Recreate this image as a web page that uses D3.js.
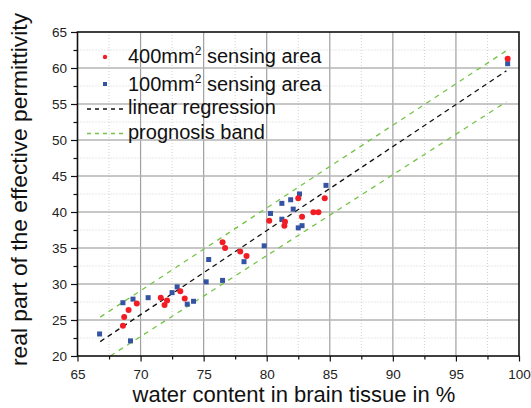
<!DOCTYPE html>
<html>
<head>
<meta charset="utf-8">
<script src="https://cdn.jsdelivr.net/npm/d3@7"></script>
<style>
body{margin:0;background:#fff;}
svg{display:block;font-family:"Liberation Sans",Arial,sans-serif;}
</style>
</head>
<body>
<div id="chart"></div>
<script>
// 400mm2 sensing area (red circles)
const redX = [68.6,68.7,69.05,69.7,71.6,71.9,72.1,73.15,73.5,76.5,76.7,77.9,78.4,80.2,81.45,81.4,82.5,82.8,83.7,84.1,84.6,99.1];
const redY = [24.2,25.4,26.4,27.3,28.1,27.1,27.7,29.0,28.0,35.8,35.0,34.5,33.9,38.8,38.65,38.1,41.9,39.35,39.95,39.95,41.9,61.3];
// 100mm2 sensing area (blue squares)
const blueX = [66.75,68.6,69.2,69.4,70.6,72.5,72.9,73.7,74.2,75.2,76.5,75.4,78.2,79.8,80.3,81.2,81.2,81.9,82.1,82.6,82.5,82.8,84.7,99.1];
const blueY = [23.06,27.4,22.1,27.9,28.1,28.8,29.6,27.2,27.6,30.3,30.5,33.4,33.1,35.3,39.8,41.2,39.0,41.7,40.4,42.5,37.8,38.1,43.7,60.6];
// regression and prognosis band end points
const regX = [66.8, 99.0],   regY = [22.0, 59.6];
const upperX = [66.8, 99.0], upperY = [25.4, 62.4];
const lowerX = [67.6, 99.0], lowerY = [20.0, 55.3];
// ticks
const xTicks = [65,70,75,80,85,90,95,100];
const yTicks = [20,25,30,35,40,45,50,55,60,65];
const legendLabels = ["400mm", "100mm", "linear regression", "prognosis band"];

const W = 531, H = 408;
const pLeft = 77.5, pRight = 519, pTop = 32, pBottom = 356;

const svg = d3.select("#chart").append("svg")
    .attr("width", W)
    .attr("height", H);

const x = d3.scaleLinear().domain([65, 100]).range([pLeft, pRight]);
const y = d3.scaleLinear().domain([20, 65]).range([pBottom, pTop]);

//minor grid every 2.5
const minorX = d3.range(67.5, 100, 5);
const minorY = d3.range(22.5, 65, 5);

svg.selectAll("line.minorx").data(minorX).enter().append("line")
    .attr("x1", d => x(d)).attr("x2", d => x(d))
    .attr("y1", pTop).attr("y2", pBottom)
    .attr("stroke", "#d0d0d0").attr("stroke-width", 1)
    .attr("stroke-dasharray", "1,2");
svg.selectAll("line.minory").data(minorY).enter().append("line")
    .attr("x1", pLeft).attr("x2", pRight)
    .attr("y1", d => y(d)).attr("y2", d => y(d))
    .attr("stroke", "#d0d0d0").attr("stroke-width", 1)
    .attr("stroke-dasharray", "1,2");

//major grid
svg.selectAll("line.majorx").data(xTicks.slice(1, -1)).enter().append("line")
    .attr("x1", d => x(d)).attr("x2", d => x(d))
    .attr("y1", pTop).attr("y2", pBottom)
    .attr("stroke", "#a0a0a0").attr("stroke-width", 1.2);
svg.selectAll("line.majory").data(yTicks.slice(1, -1)).enter().append("line")
    .attr("x1", pLeft).attr("x2", pRight)
    .attr("y1", d => y(d)).attr("y2", d => y(d))
    .attr("stroke", "#b4b4b4").attr("stroke-width", 1.5);

//lines
const line = d3.line().x(d => x(d[0])).y(d => y(d[1]));
function drawLine(xs, ys, color, dash){
    svg.append("path")
        .datum(xs.map((v, i) => [v, ys[i]]))
        .attr("d", line)
        .attr("fill", "none")
        .attr("stroke", color)
        .attr("stroke-width", 1.3)
        .attr("stroke-dasharray", dash);
}
drawLine(upperX, upperY, "#74c447", "5,5");
drawLine(lowerX, lowerY, "#74c447", "5,5");
drawLine(regX, regY, "#111", "5,4");

//points
svg.selectAll("rect.blue").data(blueX).enter().append("rect")
    .attr("x", d => x(d) - 2.5)
    .attr("y", (d, i) => y(blueY[i]) - 2.5)
    .attr("width", 5).attr("height", 5)
    .attr("fill", "#3553a3");
svg.selectAll("circle.red").data(redX).enter().append("circle")
    .attr("cx", d => x(d))
    .attr("cy", (d, i) => y(redY[i]))
    .attr("r", 3)
    .attr("fill", "#f21d24");

//axes
const xAxis = d3.axisBottom(x).tickValues(d3.range(65, 100.1, 2.5)).tickSize(5.5).tickFormat(d => xTicks.includes(d) ? d : "");
const yAxis = d3.axisLeft(y).tickValues(d3.range(20, 65.1, 2.5)).tickSize(6.5).tickFormat(d => yTicks.includes(d) ? d : "");

const gx = svg.append("g").attr("transform", "translate(0," + pBottom + ")").call(xAxis);
const gy = svg.append("g").attr("transform", "translate(" + pLeft + ",0)").call(yAxis);
[gx, gy].forEach(g => {
    g.select(".domain").remove();
    g.selectAll("line").attr("stroke", "#111").attr("stroke-width", 1.2);
    g.selectAll("text").attr("fill", "#222").style("font-size", "13.5px")
        .style("font-family", "'Liberation Sans',Arial,sans-serif");
});
gx.selectAll(".tick").filter(d => !xTicks.includes(d)).select("line").attr("y2", 3.5);
gy.selectAll(".tick").filter(d => !yTicks.includes(d)).select("line").attr("x2", -4);
gx.selectAll("text").attr("dy", "0.71em").attr("y", 13);
gy.selectAll("text").attr("x", -10.5);

svg.append("rect")
    .attr("x", pLeft).attr("y", pTop)
    .attr("width", pRight - pLeft).attr("height", pBottom - pTop)
    .attr("fill", "none").attr("stroke", "#111").attr("stroke-width", 1.6);

//legend
const lg = svg.append("g");
lg.append("circle").attr("cx", 105).attr("cy", 57).attr("r", 2.2).attr("fill", "#f21d24");
lg.append("rect").attr("x", 103).attr("y", 82).attr("width", 4).attr("height", 4).attr("fill", "#3553a3");
[0, 1].forEach(i => {
    const t = lg.append("text").attr("x", 128).attr("y", 63 + i * 27.5)
        .style("font-size", "20px").attr("fill", "#111");
    t.append("tspan").text(legendLabels[i]);
    t.append("tspan").text("2").attr("dy", -8).style("font-size", "12px");
    t.append("tspan").text(" sensing area").attr("dy", 8);
});
[["#111", "4,4"], ["#74c447", "4,4"]].forEach((s, i) => {
    lg.append("line").attr("x1", 87).attr("x2", 123)
        .attr("y1", 109 + i * 24.5).attr("y2", 109 + i * 24.5)
        .attr("stroke", s[0]).attr("stroke-width", 1.3).attr("stroke-dasharray", s[1]);
    lg.append("text").attr("x", 128).attr("y", 114 + i * 24.5)
        .style("font-size", "20px").attr("fill", "#111")
        .text(legendLabels[i + 2]);
});

//axis titles
svg.append("text")
    .attr("x", 294).attr("y", 402)
    .attr("text-anchor", "middle")
    .style("font-size", "22px").attr("fill", "#111")
    .text("water content in brain tissue in %");
svg.append("text")
    .attr("transform", "translate(27,189.5) rotate(-90)")
    .attr("text-anchor", "middle")
    .style("font-size", "22.8px").attr("fill", "#111")
    .text("real part of the effective permittivity");
</script>
</body>
</html>
